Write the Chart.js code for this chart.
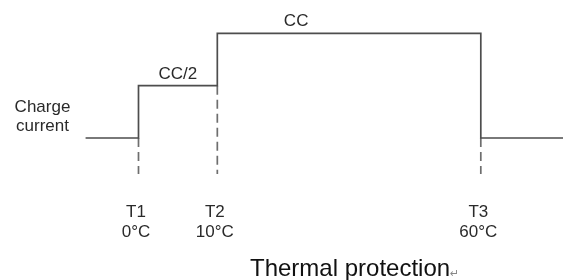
<!DOCTYPE html>
<html>
<head>
<meta charset="utf-8">
<script src="https://cdn.jsdelivr.net/npm/chart.js@4"></script>
<style>
  html, body { margin: 0; padding: 0; background: #fff; }
  #wrap { width: 563px; height: 280px; }
</style>
</head>
<body>
<div id="wrap"><canvas id="chart"></canvas></div>
<script>
// step edges along the temperature axis (abstract units, 0..100 across the page)
const edges = [15.2, 24.6, 38.6, 85.4, 100];
// charge current after each edge, as a fraction of CC
const current = [0, 0.5, 1, 0, 0];

const markerNames = ["T1", "T2", "T3"];
const markerTemps = ["0°C", "10°C", "60°C"];
const markerX = [24.6, 38.6, 85.4];
const markerTop = [0, 0.5, 0];
const dashBottom = -0.344;

const levelNames = ["CC/2", "CC"];
const levelX = [31.6, 52.6];
const levelY = [0.5, 1];

const LINE = "#4d4d4d";
const TEXT = "#2a2a2a";
const FONT = "Liberation Sans, Arial, sans-serif";

const stepData = edges.map((x, i) => ({ x: x, y: current[i] }));

const dashSets = markerX.map((x, i) => ({
  data: [{ x: x, y: markerTop[i] }, { x: x, y: dashBottom }],
  borderColor: "#6e6e6e",
  borderWidth: 1.7,
  borderDash: [9, 5],
  pointRadius: 0,
  clip: false,
}));

const labels = {
  id: "labels",
  afterDraw(chart) {
    const { ctx, scales } = chart;
    const xs = scales.x, ys = scales.y;
    ctx.save();
    ctx.fillStyle = TEXT;
    ctx.textAlign = "center";
    ctx.textBaseline = "alphabetic";
    ctx.font = "17px " + FONT;

    // level names above the steps
    levelNames.forEach((name, i) => {
      const px = xs.getPixelForValue(levelX[i]);
      const py = ys.getPixelForValue(levelY[i]);
      ctx.fillText(name, px, py - 7);
    });

    // T markers under the dashed lines
    markerNames.forEach((name, i) => {
      const px = xs.getPixelForValue(markerX[i]) - 2.5;
      const py = ys.getPixelForValue(dashBottom);
      ctx.fillText(name, px, py + 43);
      ctx.fillText(markerTemps[i], px, py + 63);
    });

    // y axis caption
    ctx.fillText("Charge", 42.5, 112);
    ctx.fillText("current", 42.5, 131);

    // caption under the chart
    ctx.textAlign = "left";
    ctx.fillStyle = "#111";
    ctx.font = "24px " + FONT;
    ctx.fillText("Thermal protection", 250, 276);
    const w = ctx.measureText("Thermal protection").width;
    ctx.fillStyle = "#888";
    ctx.font = "11px DejaVu Sans, sans-serif";
    ctx.fillText("\u21B5", 250 + w, 277);
    ctx.restore();
  },
};

new Chart(document.getElementById("chart"), {
  type: "line",
  data: {
    datasets: [
      {
        data: stepData,
        stepped: "before",
        borderColor: LINE,
        borderWidth: 1.7,
        pointRadius: 0,
        clip: false,
      },
      ...dashSets,
    ],
  },
  options: {
    responsive: true,
    maintainAspectRatio: false,
    animation: false,
    layout: { padding: 0 },
    plugins: {
      legend: { display: false },
      tooltip: { enabled: false },
    },
    scales: {
      x: { type: "linear", display: false, min: 0, max: 100 },
      y: { type: "linear", display: false, min: -1.356, max: 1.318 },
    },
  },
  plugins: [labels],
});
</script>
</body>
</html>
